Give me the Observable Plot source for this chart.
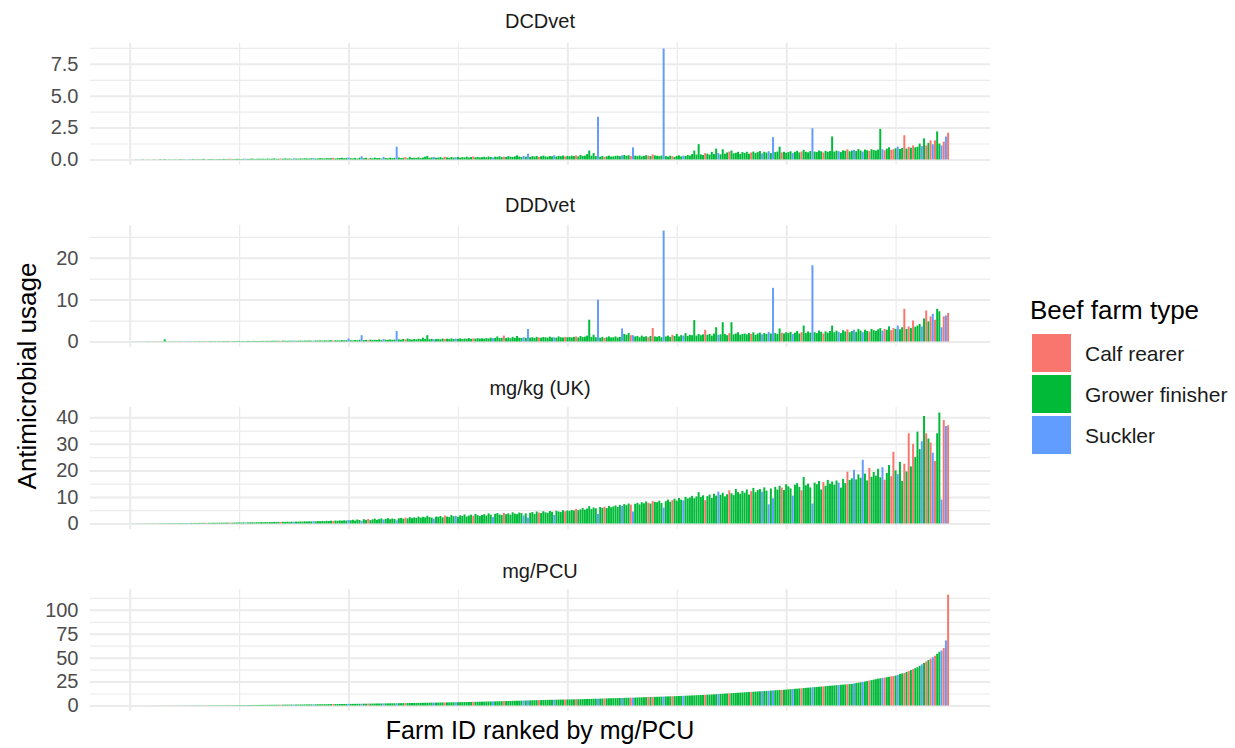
<!DOCTYPE html>
<html><head><meta charset="utf-8">
<script src="https://cdn.jsdelivr.net/npm/d3@7"></script>
<script src="https://cdn.jsdelivr.net/npm/@observablehq/plot@0.6"></script>
<style>
body{margin:0;background:#fff;font-family:"Liberation Sans",Arial,sans-serif;}
#wrap{position:relative;width:1235px;height:748px;overflow:hidden;background:#fff;}
.panel{position:absolute;left:0;}
.strip{position:absolute;left:90px;width:900px;text-align:center;font-size:20px;color:#1A1A1A;line-height:24px;}
.xtitle{position:absolute;left:90px;width:900px;text-align:center;font-size:25px;color:#000;line-height:28px;top:716px;}
.ytitle{position:absolute;left:27px;top:376px;transform:translate(-50%,-50%) rotate(-90deg);font-size:26px;color:#000;white-space:nowrap;line-height:30px;}
.legtitle{position:absolute;left:1030px;top:295px;font-size:26px;color:#000;line-height:30px;white-space:nowrap;}
.sw{position:absolute;left:1032px;width:39px;height:38px;}
.lab{position:absolute;left:1085px;font-size:21px;color:#1A1A1A;line-height:24px;white-space:nowrap;}
</style></head>
<body><div id="wrap"></div>
<script>
// Farm types in rank order (C = Calf rearer, G = Grower finisher, S = Suckler)
const farmTypes =
  "GGGGSGGGGGGCGGGGGGGG" + "GGGGGGSGGGGGGGCGGGGG" + "GGGGGCGGGGGGSGGGGGGG" + "GGGGGGGGCGGGGGSGGGGG" +
  "GGGSGGGGGGGGCGGGGGGS" + "GGGGGSGGCGGGGGGSGGGG" + "GSGGGCGGGGGGGGGGGGSG" + "GGGCGGGGSGGGGGGGCGGG" +
  "GGGGGSGGGGCGGGGGGGGS" + "GSGGGGCGGGGGGSGGGGCG" + "GGGCGGGGGGGGGSGGCGGG" + "GGGGSGGGCSGGGGGGCGCG" +
  "GGGSGGGCGGGGSGGGGGGG" + "GGCGGGGGSGGGGCGGGGGG" + "GGGCGGGGSGGSGSGGGCGG" + "GGSGGGCGGGGSGGGGCGGG" +
  "GGGSGGGCGGSGGGSGGCGG" + "GGGSCGGCCGSGGCGCGCGG" + "GSGCGCSCGGSCSC";
const typeCodes = ["C", "G", "S"];
const typeNames = ["Calf rearer", "Grower finisher", "Suckler"];
const typeColors = ["#F8766D", "#00BA38", "#619CFF"];

const dcdVet = [
0,0,0.01,0,0.01,0.02,0,0.01,0.01,0,0.02,0.01,0.01,0.03,0.01,0.04,0.01,0.02,0.01,0.02,
0.02,0.01,0.03,0.02,0.02,0.01,0.03,0.02,0.04,0.02,0.03,0.02,0.03,0.05,0.02,0.03,0.04,0.03,0.02,0.03,
0.04,0.03,0.05,0.03,0.04,0.06,0.03,0.04,0.05,0.04,0.03,0.05,0.06,0.04,0.05,0.07,0.04,0.05,0.06,0.05,
0.06,0.05,0.07,0.05,0.06,0.08,0.05,0.06,0.07,0.06,0.08,0.06,0.07,0.05,0.09,0.07,0.06,0.08,0.07,0.09,
0.08,0.07,0.09,0.1,0.07,0.08,0.1,0.09,0.08,0.11,0.09,0.1,0.12,0.08,0.1,0.11,0.13,0.09,0.12,0.15,
0.1,0.08,0.12,0.06,0.14,0.25,0.1,0.13,0.08,0.11,0.09,0.15,0.1,0.12,0.07,0.2,0.11,0.09,0.14,0.1,
0.12,1.0,0.15,0.1,0.13,0.18,0.09,0.2,0.11,0.14,0.12,0.17,0.1,0.15,0.22,0.28,0.13,0.16,0.19,0.14,
0.15,0.18,0.13,0.21,0.16,0.12,0.19,0.15,0.17,0.2,0.14,0.18,0.16,0.22,0.15,0.19,0.24,0.17,0.2,0.16,
0.18,0.21,0.17,0.23,0.19,0.16,0.22,0.2,0.25,0.18,0.21,0.19,0.26,0.22,0.2,0.24,0.32,0.23,0.19,0.27,
0.22,0.45,0.2,0.26,0.23,0.28,0.21,0.25,0.3,0.24,0.22,0.27,0.25,0.33,0.23,0.29,0.26,0.31,0.24,0.28,
0.25,0.3,0.27,0.32,0.24,0.35,0.28,0.3,0.42,0.7,0.3,0.5,0.26,3.35,0.22,0.28,0.2,0.25,0.3,0.23,
0.24,0.28,0.3,0.26,0.32,0.35,0.29,0.33,0.27,0.95,0.3,0.26,0.31,0.24,0.28,0.33,0.3,0.27,0.4,0.32,
0.29,0.26,0.31,8.7,0.27,0.22,0.3,0.25,0.2,0.28,0.32,0.24,0.3,0.27,0.35,0.3,0.42,0.7,0.38,1.2,
0.4,0.35,0.5,0.45,0.38,0.6,0.42,0.85,0.5,0.4,0.8,0.45,0.55,0.62,0.7,0.48,0.52,0.6,0.44,0.58,
0.5,0.6,0.45,0.55,0.62,0.5,0.58,0.66,0.48,0.6,0.54,0.65,0.5,1.75,0.58,0.62,1.0,0.55,0.6,0.52,
0.58,0.64,0.5,0.6,0.68,0.55,0.62,0.75,0.6,0.56,0.66,2.45,0.62,0.58,0.7,0.64,0.55,0.68,0.6,0.66,
1.8,0.62,0.7,0.65,0.58,0.72,0.68,0.8,0.64,0.7,0.75,0.66,0.82,0.7,0.62,0.78,0.72,0.68,0.8,0.74,
0.7,0.78,2.4,0.8,0.72,0.85,0.95,0.76,0.8,0.88,1.0,0.82,0.9,1.9,0.85,1.0,0.92,1.1,0.95,1.0,
1.25,1.05,1.65,1.1,1.3,1.5,1.2,1.5,2.2,1.25,1.1,1.4,1.8,2.1];

const dddVet = [
0.02,0.01,0.03,0.02,0.04,0.03,0.02,0.05,0.03,0.02,0.04,0.06,0.03,0.05,0.04,0.5,0.03,0.05,0.04,0.06,
0.05,0.04,0.07,0.05,0.06,0.04,0.08,0.06,0.05,0.07,0.06,0.09,0.05,0.08,0.07,0.06,0.1,0.07,0.08,0.06,
0.09,0.07,0.1,0.08,0.12,0.09,0.08,0.11,0.1,0.13,0.09,0.12,0.1,0.14,0.11,0.1,0.15,0.12,0.11,0.13,
0.14,0.12,0.16,0.13,0.15,0.18,0.14,0.17,0.15,0.2,0.16,0.14,0.19,0.17,0.22,0.15,0.18,0.2,0.17,0.21,
0.19,0.23,0.2,0.18,0.25,0.21,0.24,0.2,0.27,0.22,0.25,0.3,0.23,0.28,0.26,0.24,0.32,0.27,0.3,0.7,
0.3,0.25,0.35,0.28,0.4,1.5,0.32,0.38,0.3,0.45,0.34,0.4,0.36,0.5,0.33,0.55,0.42,0.38,0.48,0.4,
0.45,2.5,0.5,0.42,0.6,0.48,0.7,0.52,0.45,0.58,0.5,0.65,0.55,0.9,0.6,1.5,0.55,0.62,0.5,0.58,
0.6,0.52,0.7,0.58,0.65,0.55,0.72,0.6,0.68,0.62,0.75,0.58,0.7,0.66,0.8,0.64,0.72,0.68,0.78,0.7,
0.74,0.68,0.8,0.72,0.9,0.76,0.85,1.2,0.8,0.88,1.4,0.82,0.95,0.78,1.1,0.86,1.3,0.9,0.84,1.0,
0.88,3.0,0.92,1.0,0.85,1.1,0.95,0.9,1.05,0.98,0.92,1.15,0.96,1.0,0.9,1.2,1.0,0.94,1.1,1.0,
1.05,0.98,1.1,1.2,0.95,1.3,1.05,1.15,1.4,5.2,1.1,1.6,1.0,10.0,0.9,1.1,0.85,1.0,1.2,0.95,
1.0,1.2,0.95,1.1,3.1,1.8,1.6,2.0,1.5,1.5,1.2,1.3,1.0,1.4,1.1,1.25,1.0,1.3,3.2,1.2,
1.1,1.3,1.0,26.5,1.2,1.4,1.1,1.6,1.3,1.8,1.2,1.5,1.4,2.0,1.3,1.6,1.5,5.1,1.4,1.8,
1.5,1.7,2.8,1.6,1.8,1.4,1.9,3.4,1.6,1.7,4.6,1.8,1.5,2.0,4.6,1.7,1.9,2.2,1.6,1.8,
1.9,1.7,2.0,1.8,2.2,1.6,1.9,2.1,1.7,2.0,1.8,2.3,1.9,12.8,2.0,1.8,3.1,2.1,1.9,2.2,
2.0,2.3,1.8,2.1,2.5,1.9,2.2,3.8,2.0,2.4,2.1,18.2,2.2,2.0,2.6,2.3,1.9,2.4,2.1,2.5,
3.8,2.2,2.6,2.3,2.0,2.7,2.4,2.9,2.2,2.5,2.8,2.3,3.0,2.6,2.2,2.8,2.5,2.4,3.0,2.7,
2.5,2.9,3.2,2.6,3.0,2.8,3.6,2.7,3.2,3.0,3.8,2.9,3.4,7.8,3.0,3.6,3.2,5.0,3.5,3.8,
4.2,3.6,5.5,7.4,4.8,6.0,6.6,5.2,7.8,7.2,3.4,6.0,6.2,6.8];

const mgKg = [
0.02,0.03,0.03,0.05,0.04,0.06,0.05,0.07,0.06,0.08,0.07,0.09,0.08,0.1,0.09,0.12,0.1,0.11,0.13,0.12,
0.14,0.13,0.15,0.17,0.14,0.18,0.16,0.2,0.17,0.21,0.19,0.22,0.2,0.24,0.21,0.25,0.23,0.27,0.24,0.28,
0.26,0.3,0.27,0.32,0.29,0.34,0.3,0.36,0.33,0.38,0.34,0.4,0.36,0.42,0.38,0.44,0.4,0.47,0.42,0.49,
0.45,0.52,0.47,0.55,0.5,0.58,0.52,0.6,0.55,0.64,0.58,0.66,0.6,0.7,0.63,0.72,0.66,0.76,0.7,0.8,
0.74,0.82,0.77,0.86,0.8,0.9,0.84,0.95,0.88,1.0,0.92,1.05,0.96,1.1,1.0,1.15,1.05,1.2,1.1,1.3,
1.2,1.4,1.1,1.5,1.3,1.0,1.6,1.35,1.7,1.25,1.55,1.8,1.4,1.65,1.9,1.5,1.75,2.0,1.6,1.85,
1.7,1.2,1.95,2.1,1.8,2.2,1.9,2.4,2.0,2.3,2.1,2.6,2.2,2.5,2.3,2.9,2.4,2.2,1.8,2.6,
2.5,2.8,2.3,3.0,2.6,2.4,3.2,2.7,2.9,2.5,3.1,2.8,3.4,2.6,3.0,3.3,2.9,3.6,3.1,2.8,
3.2,3.5,3.0,3.8,3.3,2.4,3.6,3.9,3.4,3.2,4.0,3.5,3.8,3.3,4.2,3.7,3.5,4.1,3.9,3.0,
3.8,2.2,4.0,4.3,3.6,4.5,4.1,3.9,4.6,4.2,4.0,4.7,4.4,3.2,4.8,4.5,4.3,5.0,4.6,4.9,
4.7,5.1,4.9,5.5,5.0,5.3,5.8,5.2,5.6,6.5,5.4,6.0,5.7,3.6,6.2,5.9,6.3,5.8,6.6,6.1,
6.4,6.8,6.2,7.0,6.6,7.3,6.9,7.5,7.1,4.5,7.4,7.8,7.2,8.0,7.6,8.3,7.8,7.5,8.5,8.1,
8.0,8.6,7.7,6.0,8.4,9.0,8.2,8.8,9.3,8.6,9.6,9.0,8.7,10.0,9.4,9.8,10.4,9.5,10.2,11.8,
10.0,10.6,8.8,10.3,10.9,9.6,11.2,10.5,12.0,10.8,11.6,10.2,11.0,12.5,11.4,10.7,13.0,11.8,11.2,12.3,
11.6,12.8,10.9,12.2,13.4,11.8,12.6,13.0,12.0,13.6,12.4,7.2,13.2,9.5,13.8,12.8,14.2,13.5,12.6,14.8,
14.0,13.2,10.5,14.6,15.2,13.8,12.5,17.5,14.4,15.0,13.6,7.5,15.4,14.8,16.0,12.8,15.6,14.2,16.4,15.0,
15.8,14.6,16.2,15.4,13.5,16.8,15.2,19.5,16.4,17.0,20.2,16.6,18.5,17.2,24.0,18.8,16.2,21.0,17.6,19.4,
18.0,20.6,17.4,21.2,16.5,19.0,22.0,17.8,27.0,20.0,18.6,23.2,16.0,22.5,19.6,34.0,21.5,30.0,25.0,34.6,
28.0,31.0,40.5,34.0,32.0,30.5,26.7,23.6,34.0,41.8,9.0,39.0,36.7,37.0];

const mgPCU = [
0.01,0.01,0.02,0.02,0.02,0.03,0.03,0.04,0.04,0.05,0.05,0.06,0.06,0.07,0.07,0.08,0.08,0.09,0.1,0.1,
0.11,0.12,0.12,0.13,0.14,0.15,0.15,0.16,0.17,0.18,0.19,0.2,0.21,0.22,0.23,0.24,0.25,0.26,0.27,0.28,
0.29,0.3,0.31,0.33,0.34,0.36,0.37,0.39,0.4,0.42,0.43,0.45,0.47,0.48,0.5,0.52,0.54,0.55,0.57,0.59,
0.61,0.63,0.65,0.67,0.69,0.71,0.73,0.75,0.78,0.8,0.82,0.84,0.87,0.89,0.91,0.94,0.96,0.99,1.01,1.04,
1.06,1.09,1.12,1.15,1.18,1.21,1.24,1.27,1.3,1.33,1.36,1.39,1.42,1.45,1.48,1.5,1.53,1.55,1.58,1.6,
1.63,1.66,1.7,1.73,1.76,1.8,1.83,1.86,1.9,1.93,1.97,2.0,2.04,2.07,2.1,2.14,2.17,2.2,2.24,2.27,
2.3,2.34,2.37,2.41,2.45,2.48,2.52,2.55,2.59,2.63,2.66,2.7,2.74,2.78,2.82,2.86,2.9,2.94,2.98,3.02,
3.06,3.1,3.14,3.18,3.2,3.23,3.27,3.3,3.33,3.37,3.42,3.47,3.52,3.57,3.62,3.68,3.73,3.78,3.84,3.9,
3.95,4.01,4.07,4.12,4.18,4.24,4.3,4.36,4.42,4.48,4.55,4.61,4.67,4.73,4.8,4.86,4.93,5.0,5.06,5.13,
5.2,5.27,5.33,5.4,5.47,5.53,5.6,5.66,5.72,5.78,5.84,5.9,5.95,6.0,6.05,6.1,6.14,6.18,6.22,6.26,
6.3,6.35,6.4,6.46,6.52,6.58,6.64,6.7,6.76,6.82,6.88,6.95,7.02,7.1,7.18,7.25,7.33,7.4,7.46,7.52,
7.58,7.64,7.7,7.77,7.84,7.91,7.98,8.05,8.12,8.2,8.28,8.36,8.44,8.52,8.6,8.68,8.76,8.84,8.92,9.0,
9.08,9.16,9.24,9.32,9.4,9.48,9.56,9.64,9.72,9.8,9.9,10.0,10.1,10.2,10.3,10.4,10.5,10.6,10.7,10.8,
10.9,11.0,11.1,11.2,11.35,11.5,11.65,11.8,11.95,12.1,12.25,12.4,12.55,12.7,12.85,13.0,13.15,13.3,13.45,13.6,
13.75,13.9,14.05,14.2,14.35,14.5,14.65,14.8,14.95,15.1,15.25,15.4,15.55,15.7,15.85,16.0,16.15,16.3,16.45,16.6,
16.8,17.0,17.2,17.4,17.6,17.8,18.0,18.2,18.4,18.6,18.8,19.0,19.2,19.4,19.6,19.8,20.0,20.2,20.4,20.6,
20.8,21.0,21.2,21.4,21.6,21.8,22.0,22.2,22.4,22.6,23.0,23.4,23.8,24.2,24.6,25.0,25.5,26.0,26.5,27.0,
27.5,28.0,28.4,28.8,29.2,29.6,30.0,30.4,30.8,31.2,32.0,33.0,33.5,34.0,35.0,36.0,37.0,38.0,39.0,40.0,
41.5,43,44.5,46,47.5,49,50.5,52,54,56,57.5,60,68,116];

// Axis breaks
const xMajor = [0, 100, 200, 300];
const xMinor = [50, 150, 250, 350];
const dcdMajor = [0, 2.5, 5, 7.5], dcdMinor = [1.25, 3.75, 6.25, 8.75];
const dddMajor = [0, 10, 20], dddMinor = [5, 15, 25];
const kgMajor = [0, 10, 20, 30, 40], kgMinor = [5, 15, 25, 35];
const pcuMajor = [0, 25, 50, 75, 100], pcuMinor = [12.5, 37.5, 62.5, 87.5, 112.5];

const panelTitles = ["DCDvet", "DDDvet", "mg/kg (UK)", "mg/PCU"];

const wrap = document.getElementById("wrap");
const N = farmTypes.length;
const typeName = Object.fromEntries(typeCodes.map((c, i) => [c, typeNames[i]]));
const span = (N + 0.45) - 0.55;
const xDomain = [0.55 - 0.05 * span, N + 0.45 + 0.05 * span];

const specs = [
  {title: panelTitles[0], values: dcdVet, major: dcdMajor, minor: dcdMinor, fmt: d => d.toFixed(1), top: 43, ty: 21},
  {title: panelTitles[1], values: dddVet, major: dddMajor, minor: dddMinor, fmt: d => String(d), top: 225, ty: 205},
  {title: panelTitles[2], values: mgKg, major: kgMajor, minor: kgMinor, fmt: d => String(d), top: 407, ty: 388},
  {title: panelTitles[3], values: mgPCU, major: pcuMajor, minor: pcuMinor, fmt: d => String(d), top: 589, ty: 571}
];

const PH = 122, MT = 3, MB = 3;
for (const s of specs) {
  const data = s.values.map((v, i) => ({r: i + 1, v, t: typeName[farmTypes[i]]}));
  const max = d3.max(s.values);
  const chart = Plot.plot({
    width: 1235, height: PH + MT + MB,
    marginTop: MT, marginBottom: MB, marginLeft: 90, marginRight: 245,
    x: {domain: xDomain, axis: null},
    y: {domain: [-0.05 * max, 1.05 * max], ticks: s.major, tickFormat: s.fmt, tickSize: 0, tickPadding: 12, label: null},
    color: {domain: typeNames, range: typeColors},
    style: {fontFamily: "'Liberation Sans', Arial, sans-serif", fontSize: "20px", color: "#4D4D4D", background: "transparent", overflow: "visible"},
    marks: [
      Plot.ruleY(s.minor, {stroke: "#EBEBEB", strokeWidth: 1.2}),
      Plot.ruleY(s.major, {stroke: "#EBEBEB", strokeWidth: 2}),
      Plot.ruleX(xMinor, {stroke: "#EBEBEB", strokeWidth: 1.2}),
      Plot.ruleX(xMajor, {stroke: "#EBEBEB", strokeWidth: 2}),
      Plot.rect(data, {x1: d => d.r - 0.45, x2: d => d.r + 0.45, y1: 0, y2: "v", fill: "t"})
    ]
  });
  chart.classList.add("panel");
  chart.style.top = (s.top - MT) + "px";
  wrap.appendChild(chart);
  const st = document.createElement("div");
  st.className = "strip";
  st.style.top = (s.ty - 12) + "px";
  st.textContent = s.title;
  wrap.appendChild(st);
}

const xt = document.createElement("div");
xt.className = "xtitle"; xt.textContent = "Farm ID ranked by mg/PCU"; wrap.appendChild(xt);
const yt = document.createElement("div");
yt.className = "ytitle"; yt.textContent = "Antimicrobial usage"; wrap.appendChild(yt);
const lt = document.createElement("div");
lt.className = "legtitle"; lt.textContent = "Beef farm type"; wrap.appendChild(lt);
typeNames.forEach((name, i) => {
  const sw = document.createElement("div");
  sw.className = "sw"; sw.style.top = (334 + i * 41) + "px"; sw.style.background = typeColors[i];
  wrap.appendChild(sw);
  const lb = document.createElement("div");
  lb.className = "lab"; lb.style.top = (342 + i * 41) + "px"; lb.textContent = name;
  wrap.appendChild(lb);
});
</script>
</body></html>
